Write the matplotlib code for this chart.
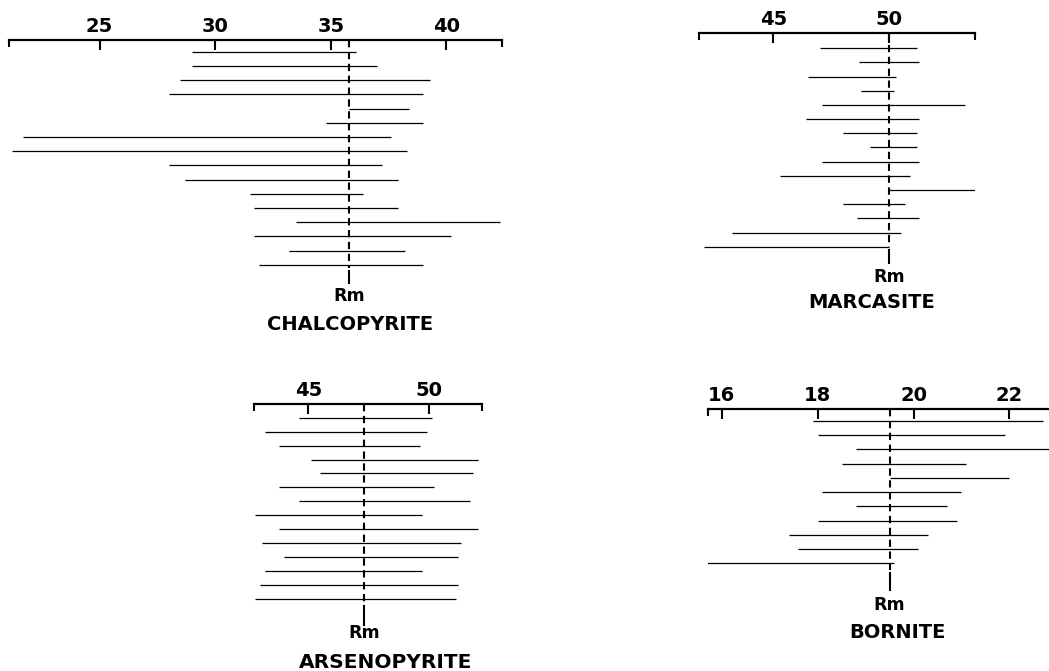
# Reflectance ranges of four sulphide minerals (with mean Rm)
import numpy as np
import matplotlib.pyplot as plt
from matplotlib.transforms import blended_transform_factory

W, H = 1049, 671

# --- data ---
chalco_lo = [29.0, 29.0, 28.5, 28.0, 35.8, 34.8, 21.7, 21.2, 28.0, 28.7, 31.5, 31.7, 33.5, 31.7, 33.2, 31.9]
chalco_hi = [36.1, 37.0, 39.3, 39.0, 38.4, 39.0, 37.6, 38.3, 37.2, 37.9, 36.4, 37.9, 42.3, 40.2, 38.2, 39.0]
chalco_rm = 35.8
chalco_ticks = [25, 30, 35, 40]

marc_lo = [47.0, 48.7, 46.5, 48.8, 47.1, 46.4, 48.0, 49.2, 47.1, 45.3, 50.0, 48.0, 48.6, 43.2, 42.0]
marc_hi = [51.2, 51.3, 50.3, 50.2, 53.3, 51.3, 51.2, 51.2, 51.3, 50.9, 53.7, 50.7, 51.3, 50.5, 50.0]
marc_rm = 50.0
marc_ticks = [45, 50]

arseno_lo = [44.6, 43.2, 43.8, 45.1, 45.5, 43.8, 44.6, 42.8, 43.8, 43.1, 44.0, 43.2, 43.0, 42.8]
arseno_hi = [50.1, 49.9, 49.6, 52.0, 51.8, 50.2, 51.7, 49.7, 52.0, 51.3, 51.2, 49.7, 51.2, 51.1]
arseno_rm = 47.3
arseno_ticks = [45, 50]

born_lo = [17.9, 18.0, 18.8, 18.5, 19.5, 18.1, 18.8, 18.0, 17.4, 17.6, 15.7]
born_hi = [22.7, 21.9, 23.0, 21.1, 22.0, 21.0, 20.7, 20.9, 20.3, 20.1, 19.6]
born_rm = 19.5
born_ticks = [16, 18, 20, 22]

fig = plt.figure(figsize=(W / 100, H / 100), dpi=100)


def panel(lo, hi, rm, ticks, xlim, name, box, rows, line, labels, ends=None, tfs=14):
    # box: left, right, axis y (pixels); rows: first row y, step; line: dash end, line end
    left, right, top = box
    first, step = rows
    dash_end, line_end = line
    rm_y, title_x, title_y = labels
    ax = fig.add_axes([left / W, 1 - line_end / H, (right - left) / W, (line_end - top) / H])
    to_row = lambda px: (px - first) / step
    y = np.arange(len(lo))
    ax.hlines(y, lo, hi, color='black', lw=0.9)
    ax.plot([rm, rm], [to_row(top), to_row(dash_end)], color='black', lw=1.5,
            dashes=(3.5, 2.2), clip_on=False)
    ax.plot([rm, rm], [to_row(dash_end + 3), to_row(line_end)], color='black', lw=1.5,
            clip_on=False)
    ax.set_xlim(*xlim)
    ax.set_ylim(to_row(line_end), to_row(top))
    ax.set_yticks([])
    for s in ['left', 'right', 'bottom']:
        ax.spines[s].set_visible(False)
    ax.spines['top'].set_linewidth(1.6)
    ax.xaxis.tick_top()
    ax.set_xticks(ticks)
    ax.set_xticks(list(xlim) if ends is None else ends, minor=True)
    ax.tick_params(axis='x', which='both', direction='in', width=1.5, top=True, bottom=False,
                   labeltop=True, labelbottom=False)
    ax.tick_params(axis='x', which='major', length=7, pad=3, labelsize=14)
    ax.tick_params(axis='x', which='minor', length=5)
    for t in ax.get_xticklabels():
        t.set_fontweight('bold')
    ax.patch.set_visible(False)
    tr = blended_transform_factory(ax.transData, fig.transFigure)
    ax.text(rm, 1 - rm_y / H, 'Rm', transform=tr, ha='center', va='center',
            fontsize=12.5, fontweight='bold')
    fig.text(title_x / W, 1 - title_y / H, name, ha='center', va='center',
             fontsize=tfs, fontweight='bold')
    return ax


panel(chalco_lo, chalco_hi, chalco_rm, chalco_ticks, (21.1, 42.4), 'CHALCOPYRITE',
      (9.3, 502, 40), (51.7, 14.2), (268, 283), (296, 350, 325))
panel(marc_lo, marc_hi, marc_rm, marc_ticks, (41.8, 53.72), 'MARCASITE',
      (699.3, 975, 33.3), (48.3, 14.17), (247, 263), (277, 872, 302), tfs=14)
panel(arseno_lo, arseno_hi, arseno_rm, arseno_ticks, (42.76, 52.19), 'ARSENOPYRITE',
      (254, 482.3, 404.3), (417.7, 13.95), (603, 625), (633, 386, 662), tfs=14.5)
panel(born_lo, born_hi, born_rm, born_ticks, (15.72, 22.95), 'BORNITE',
      (708.3, 1055, 409.3), (421, 14.23), (570, 590), (605, 897, 633), ends=[15.72])

plt.savefig('out.png', dpi=100)
